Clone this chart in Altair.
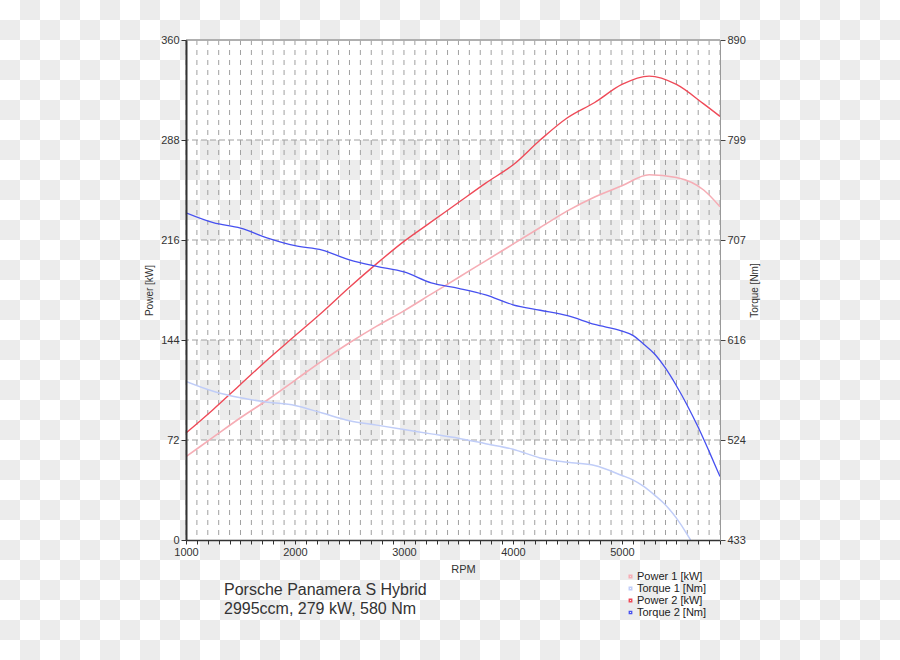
import altair as alt
import pandas as pd

FONT = "Liberation Sans"

# ---- data ----
series_names = ["Power 1 [kW]", "Torque 1 [Nm]", "Power 2 [kW]", "Torque 2 [Nm]"]
series_colors = ["#f6adb5", "#c0cdf8", "#ef4a58", "#4650f0"]
series_widths = [1.6, 1.3, 2.1, 1.5]

rpm_p = [1000, 1250, 1500, 1750, 2000, 2250, 2500, 2750, 3000, 3250, 3500,
         3750, 4000, 4250, 4500, 4750, 5000, 5250, 5500, 5750, 5900]
power1 = [60, 74, 88, 101, 115, 129, 142, 154, 165, 177, 189,
          201, 213, 225, 237, 247, 255, 263, 261, 252, 240]
power2 = [77, 94, 112, 130, 147, 164, 182, 199, 215, 229, 243,
          257, 270, 288, 304, 315, 328, 334, 328, 314, 305]

rpm_t1 = [1000, 1250, 1500, 1750, 2000, 2250, 2500, 2750, 3000, 3250, 3500,
          3750, 4000, 4250, 4500, 4750, 5000, 5100, 5200, 5300, 5400, 5500, 5600, 5630]
torque1 = [578, 569, 563, 559, 556, 549, 542, 538, 534, 530, 526,
           521, 516, 508, 504, 501, 492, 488, 482, 474, 465, 453, 438, 433]

rpm_t2 = [1000, 1250, 1500, 1750, 2000, 2250, 2500, 2750, 3000, 3250, 3500,
          3750, 4000, 4250, 4500, 4750, 5000, 5100, 5200, 5300, 5400, 5500, 5600, 5700, 5800, 5900]
torque2 = [732, 723, 718, 709, 702, 698, 689, 683, 678, 668, 663,
           657, 648, 643, 638, 630, 624, 620, 612, 603, 590, 574, 556, 536, 514, 491]

rpm_ticks = list(range(1000, 6000, 100))
kw_ticks = [0, 72, 144, 216, 288, 360]
nm_ticks = [433, 524.4, 615.8, 707.2, 798.6, 890]
white_band_lo = [0, 144, 288]
white_band_hi = [72, 216, 360]

# background checkerboard cells (20 px squares)
checker_cols = list(range(45))
checker_rows = list(range(33))

# ---- tables ----
power_df = pd.concat([
    pd.DataFrame({"rpm": rpm_p, "val": power1, "series": series_names[0]}),
    pd.DataFrame({"rpm": rpm_p, "val": power2, "series": series_names[2]}),
])
torque_df = pd.concat([
    pd.DataFrame({"rpm": rpm_t1, "val": torque1, "series": series_names[1]}),
    pd.DataFrame({"rpm": rpm_t2, "val": torque2, "series": series_names[3]}),
])
bands_df = pd.DataFrame({"lo": white_band_lo, "hi": white_band_hi})
vgrid_df = pd.DataFrame({"rpm": rpm_ticks})
hgrid_df = pd.DataFrame({"kw": kw_ticks[1:-1]})
checker_df = pd.DataFrame([(c, r) for c in checker_cols for r in checker_rows if (c + r) % 2 == 1],
                          columns=["c", "r"])

W, H = 534, 500

x_scale = alt.Scale(domain=[1000, 5900], nice=False, zero=False)
kw_scale = alt.Scale(domain=[0, 360], nice=False, zero=False)
nm_scale = alt.Scale(domain=[433, 890], nice=False, zero=False)

x_axis = alt.Axis(values=rpm_ticks, format="d",
                  labelExpr="datum.value % 1000 === 0 ? datum.label : ''",
                  title="RPM", grid=False, domainColor="#333", domainWidth=1.5,
                  tickColor="#333", tickSize=4, tickWidth=1,
                  labelFontSize=11, labelColor="#333", labelFont=FONT, labelPadding=2,
                  labelOverlap=False, labelFlush=False,
                  titleFont=FONT, titleFontSize=11, titleFontWeight="normal",
                  titleColor="#333", titlePadding=6, titleX=277, zindex=1)
kw_axis = alt.Axis(values=kw_ticks, title="Power [kW]", grid=False,
                   domainColor="#333", domainWidth=2, tickColor="#333", tickSize=5,
                   labelFontSize=11, labelColor="#333", labelFont=FONT, labelPadding=2,
                   labelOverlap=False, labelFlush=False,
                   titleFont=FONT, titleFontSize=10, titleFontWeight="normal",
                   titleColor="#333", titlePadding=6, zindex=1)
nm_axis = alt.Axis(values=nm_ticks, format=".0f", orient="right", title="Torque [Nm]",
                   grid=False, domainColor="#999", domainWidth=1, tickColor="#444", tickSize=5,
                   labelFontSize=11, labelColor="#333", labelFont=FONT, labelPadding=2,
                   labelOverlap=False, labelFlush=False,
                   titleFont=FONT, titleFontSize=10, titleFontWeight="normal",
                   titleColor="#333", titlePadding=14, titleAngle=270, zindex=1)

color_enc = alt.Color("series:N", scale=alt.Scale(domain=series_names, range=series_colors),
                      legend=alt.Legend(title=None, orient="none", legendX=439, legendY=531,
                                        symbolType="square", symbolSize=6, symbolStrokeWidth=5,
                                        labelFont=FONT, labelFontSize=11, labelColor="#222",
                                        rowPadding=0, labelOffset=1, padding=0))
width_enc = alt.StrokeWidth("series:N", scale=alt.Scale(domain=series_names, range=series_widths),
                            legend=None)

checker = alt.Chart(checker_df).transform_calculate(
    c2="datum.c + 1", r2="datum.r + 1"
).mark_rect(color="#ececec", strokeWidth=0).encode(
    x=alt.X("c:Q", scale=alt.Scale(domain=[9.3, 36], nice=False, zero=False), axis=None),
    x2="c2:Q",
    y=alt.Y("r:Q", scale=alt.Scale(domain=[27, 2], nice=False, zero=False), axis=None),
    y2="r2:Q",
)

bands = alt.Chart(bands_df).mark_rect(color="white", strokeWidth=0).encode(
    x=alt.value(0), x2=alt.value("width"),
    y=alt.Y("lo:Q", scale=kw_scale, axis=kw_axis), y2="hi:Q",
)
vgrid = alt.Chart(vgrid_df).mark_rule(color="#a0a0a0", strokeDash=[5, 5], strokeWidth=1).encode(
    x=alt.X("rpm:Q", scale=x_scale, axis=x_axis)
)
hgrid = alt.Chart(hgrid_df).mark_rule(color="#a0a0a0", strokeDash=[6, 3], strokeWidth=1).encode(
    y=alt.Y("kw:Q", scale=kw_scale, axis=kw_axis)
)
top = alt.Chart(hgrid_df).mark_rule(color="#aaaaaa", strokeWidth=1).encode(
    y=alt.datum(360)
)
power_lines = alt.Chart(power_df).mark_line(interpolate="monotone").encode(
    x=alt.X("rpm:Q", scale=x_scale, axis=x_axis),
    y=alt.Y("val:Q", scale=kw_scale, axis=kw_axis),
    color=color_enc, strokeWidth=width_enc, order=alt.Order("rpm:Q"),
)
torque_lines = alt.Chart(torque_df).mark_line(interpolate="monotone", clip=True).encode(
    x=alt.X("rpm:Q", scale=x_scale, axis=x_axis),
    y=alt.Y("val:Q", scale=nm_scale, axis=nm_axis),
    color=color_enc, strokeWidth=width_enc, order=alt.Order("rpm:Q"),
)

power_layer = alt.layer(bands, vgrid, hgrid, top, power_lines)
main = alt.layer(power_layer, torque_lines).resolve_scale(y="independent")

chart = alt.layer(checker, main).resolve_scale(x="independent", y="independent").properties(
    width=W, height=H,
    autosize=alt.AutoSizeParams(type="none"),
    padding={"left": 186, "top": 40, "right": 180, "bottom": 120},
    background="white",
    title=alt.TitleParams(
        text=["Porsche Panamera S Hybrid", "2995ccm, 279 kW, 580 Nm"],
        orient="bottom", anchor="start", frame="group", dx=38, dy=-78, offset=0,
        font=FONT, fontSize=16, fontWeight="normal", color="#333", lineHeight=19,
    ),
).configure_view(strokeWidth=0)

chart.save("out.html", embed_options={"renderer": "svg", "actions": False})
